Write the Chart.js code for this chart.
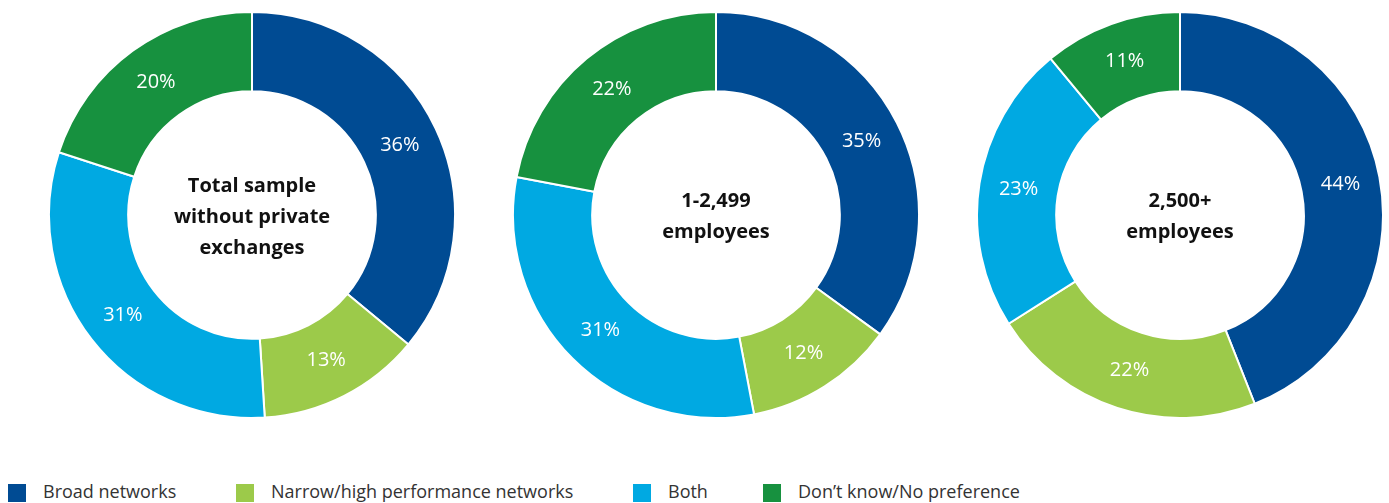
<!DOCTYPE html>
<html>
<head>
<meta charset="utf-8">
<script src="https://cdn.jsdelivr.net/npm/chart.js@4/dist/chart.umd.min.js"></script>
<style>
  html, body { margin: 0; padding: 0; background: #fff; }
  #stage { position: relative; width: 1389px; height: 503px; overflow: hidden; font-family: "Open Sans", "Noto Sans", sans-serif; }
  .ring { position: absolute; top: 11px; width: 408px; height: 408px; }
  .ring canvas { position: absolute; left: 0; top: 0; }
  .center { position: absolute; left: 0; top: 0; width: 408px; height: 408px; display: flex; align-items: center; justify-content: center; text-align: center; font-weight: 700; font-size: 20px; line-height: 31px; color: #111; pointer-events: none; }
  .legend-item { position: absolute; top: 484px; height: 19px; }
  .legend-item .sw { position: absolute; left: 0; top: 0; width: 18px; height: 18px; }
  .legend-item .tx { position: absolute; top: -6px; white-space: nowrap; font-size: 18px; color: #333; line-height: 26px; }
</style>
</head>
<body>
<div id="stage"></div>
<script>
// Response categories, in drawing order (clockwise from 12 o'clock)
const categories = ['Broad networks', 'Narrow/high performance networks', 'Both', 'Don\u2019t know/No preference'];
const colors = ['#004b93', '#9cca4a', '#00a9e2', '#17913f'];

// Share of respondents (%) per employer group
const totalSample = [36, 13, 31, 20];
const smallEmployers = [35, 12, 31, 22];
const largeEmployers = [44, 22, 23, 11];

// Centre captions, one line per entry
const totalTitle = ['Total sample', 'without private', 'exchanges'];
const smallTitle = ['1-2,499', 'employees'];
const largeTitle = ['2,500+', 'employees'];

const groups = [
  { values: totalSample, title: totalTitle, cx: 252 },
  { values: smallEmployers, title: smallTitle, cx: 716 },
  { values: largeEmployers, title: largeTitle, cx: 1180 }
];

// Percentage labels placed inside each ring segment
const sliceLabels = {
  id: 'sliceLabels',
  afterDatasetsDraw(chart) {
    const ctx = chart.ctx;
    const meta = chart.getDatasetMeta(0);
    const data = chart.data.datasets[0].data;
    ctx.save();
    ctx.fillStyle = '#ffffff';
    ctx.font = '400 20px "Open Sans", "Noto Sans", sans-serif';
    ctx.textAlign = 'center';
    ctx.textBaseline = 'middle';
    meta.data.forEach((arc, i) => {
      const p = arc.getProps(['x', 'y', 'startAngle', 'endAngle', 'innerRadius', 'outerRadius'], true);
      const mid = (p.startAngle + p.endAngle) / 2;
      const r = (p.innerRadius + p.outerRadius) / 2;
      ctx.fillText(data[i] + '%', p.x + Math.cos(mid) * r, p.y + Math.sin(mid) * r);
    });
    ctx.restore();
  }
};

const stage = document.getElementById('stage');

groups.forEach(g => {
  const box = document.createElement('div');
  box.className = 'ring';
  box.style.left = (g.cx - 204) + 'px';
  const canvas = document.createElement('canvas');
  canvas.width = 408;
  canvas.height = 408;
  box.appendChild(canvas);
  const caption = document.createElement('div');
  caption.className = 'center';
  caption.innerHTML = g.title.join('<br>');
  box.appendChild(caption);
  stage.appendChild(box);

  new Chart(canvas, {
    type: 'doughnut',
    data: {
      labels: categories,
      datasets: [{
        data: g.values,
        backgroundColor: colors,
        borderColor: '#ffffff',
        borderWidth: 2,
        hoverOffset: 0
      }]
    },
    options: {
      responsive: false,
      animation: false,
      devicePixelRatio: 1,
      cutout: '61%',
      layout: { padding: 0 },
      plugins: {
        legend: { display: false },
        tooltip: { enabled: false }
      }
    },
    plugins: [sliceLabels]
  });
});

// Legend row along the bottom edge
const legendLeft = [8, 236, 633, 763];
categories.forEach((name, i) => {
  const item = document.createElement('div');
  item.className = 'legend-item';
  item.style.left = legendLeft[i] + 'px';
  const sw = document.createElement('div');
  sw.className = 'sw';
  sw.style.background = colors[i];
  const tx = document.createElement('div');
  tx.className = 'tx';
  tx.style.left = '35px';
  tx.textContent = name;
  item.appendChild(sw);
  item.appendChild(tx);
  stage.appendChild(item);
});
</script>
</body>
</html>
